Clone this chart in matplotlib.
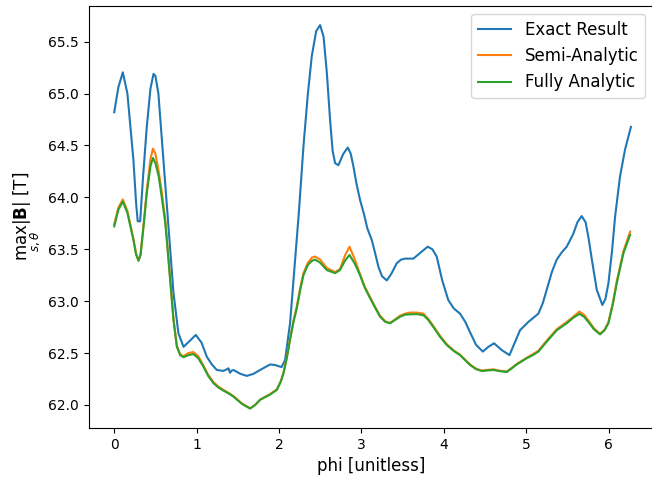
import matplotlib
matplotlib.use("Agg")
import matplotlib.pyplot as plt

# exact result
phi_exact = [0.0, 0.05, 0.104, 0.16, 0.233, 0.265, 0.285, 0.315, 0.35, 0.395, 0.44, 0.477, 0.5, 0.536,
             0.597, 0.658, 0.719, 0.779, 0.841, 0.92, 0.99, 1.06, 1.123, 1.185, 1.245, 1.325, 1.37,
             1.386, 1.405, 1.425, 1.447, 1.53, 1.609, 1.69, 1.77, 1.891, 1.95, 2.03, 2.073, 2.134,
             2.185, 2.24, 2.297, 2.35, 2.397, 2.45, 2.498, 2.54, 2.58, 2.619, 2.65, 2.68, 2.72, 2.78,
             2.834, 2.87, 2.902, 2.94, 2.983, 3.03, 3.072, 3.125, 3.17, 3.206, 3.25, 3.307, 3.36,
             3.428, 3.48, 3.529, 3.63, 3.72, 3.804, 3.86, 3.913, 3.98, 4.054, 4.12, 4.196, 4.26,
             4.318, 4.39, 4.472, 4.54, 4.609, 4.7, 4.796, 4.86, 4.924, 5.025, 5.147, 5.2, 5.248,
             5.31, 5.369, 5.43, 5.491, 5.571, 5.62, 5.672, 5.72, 5.753, 5.8, 5.855, 5.923, 5.96,
             5.996, 6.04, 6.077, 6.137, 6.198, 6.27]
b_exact = [64.82, 65.06, 65.205, 65.0, 64.36, 63.95, 63.77, 63.77, 64.2, 64.68, 65.05, 65.19, 65.17, 65.0,
           64.36, 63.72, 63.08, 62.69, 62.56, 62.62, 62.675, 62.6, 62.465, 62.39, 62.337, 62.328, 62.345,
           62.353, 62.31, 62.33, 62.337, 62.3, 62.28, 62.3, 62.337, 62.39, 62.385, 62.365, 62.43, 62.79,
           63.3, 63.85, 64.5, 65.0, 65.36, 65.6, 65.66, 65.55, 65.2, 64.75, 64.45, 64.33, 64.31, 64.42,
           64.48, 64.42, 64.3, 64.13, 63.975, 63.84, 63.7, 63.59, 63.45, 63.33, 63.24, 63.2, 63.26,
           63.365, 63.4, 63.41, 63.41, 63.47, 63.525, 63.5, 63.43, 63.2, 63.01, 62.93, 62.88, 62.8,
           62.7, 62.58, 62.514, 62.56, 62.594, 62.53, 62.48, 62.6, 62.72, 62.8, 62.88, 62.98, 63.11,
           63.28, 63.4, 63.47, 63.525, 63.65, 63.76, 63.82, 63.76, 63.62, 63.38, 63.11, 62.963, 63.02,
           63.17, 63.48, 63.81, 64.2, 64.46, 64.68]

# semi-analytic and fully analytic share the same phi grid
phi_analytic = [0.0, 0.05, 0.104, 0.16, 0.233, 0.265, 0.295, 0.32, 0.36, 0.395, 0.44, 0.47, 0.5, 0.54,
                0.577, 0.62, 0.658, 0.69, 0.719, 0.76, 0.8, 0.84, 0.9, 0.961, 1.02, 1.082, 1.14, 1.204,
                1.26, 1.325, 1.39, 1.447, 1.55, 1.649, 1.71, 1.77, 1.891, 1.973, 2.02, 2.054, 2.094,
                2.134, 2.175, 2.215, 2.26, 2.296, 2.35, 2.4, 2.437, 2.5, 2.579, 2.68, 2.74, 2.8, 2.855,
                2.92, 2.983, 3.04, 3.104, 3.17, 3.226, 3.29, 3.347, 3.41, 3.468, 3.53, 3.59, 3.67, 3.751,
                3.81, 3.873, 3.95, 4.035, 4.12, 4.196, 4.26, 4.318, 4.39, 4.459, 4.53, 4.6, 4.68, 4.763,
                4.82, 4.884, 5.006, 5.08, 5.147, 5.248, 5.37, 5.491, 5.57, 5.644, 5.7, 5.753, 5.82,
                5.895, 5.95, 5.996, 6.05, 6.097, 6.178, 6.26]
b_semi = [63.74, 63.9, 63.98, 63.87, 63.6, 63.46, 63.39, 63.45, 63.77, 64.07, 64.37, 64.47, 64.42, 64.25,
          64.05, 63.78, 63.42, 63.1, 62.83, 62.57, 62.49, 62.47, 62.5, 62.51, 62.47, 62.38, 62.29, 62.22,
          62.18, 62.145, 62.115, 62.085, 62.015, 61.968, 62.0, 62.05, 62.105, 62.15, 62.23, 62.31, 62.46,
          62.64, 62.81, 62.95, 63.14, 63.27, 63.37, 63.42, 63.43, 63.4, 63.32, 63.28, 63.31, 63.44, 63.525,
          63.4, 63.26, 63.14, 63.04, 62.94, 62.86, 62.805, 62.79, 62.825, 62.86, 62.88, 62.89, 62.89, 62.88,
          62.83, 62.76, 62.67, 62.585, 62.525, 62.485, 62.435, 62.39, 62.35, 62.332, 62.338, 62.343, 62.33,
          62.322, 62.355, 62.395, 62.455, 62.49, 62.522, 62.62, 62.73, 62.8, 62.85, 62.9, 62.87, 62.815,
          62.74, 62.685, 62.725, 62.795, 62.98, 63.19, 63.48, 63.67]
b_fully = [63.72, 63.88, 63.96, 63.85, 63.59, 63.45, 63.39, 63.45, 63.75, 64.04, 64.3, 64.38, 64.33, 64.2,
           64.0, 63.75, 63.4, 63.1, 62.82, 62.56, 62.48, 62.46, 62.48, 62.49, 62.45, 62.37, 62.28, 62.21,
           62.17, 62.138, 62.11, 62.08, 62.01, 61.965, 62.0, 62.05, 62.1, 62.145, 62.22, 62.305, 62.45,
           62.63, 62.8, 62.93, 63.12, 63.25, 63.35, 63.39, 63.4, 63.37, 63.3, 63.27, 63.3, 63.39, 63.445,
           63.36, 63.25, 63.13, 63.03, 62.93, 62.85, 62.8, 62.787, 62.82, 62.85, 62.87, 62.873, 62.875, 62.865,
           62.82, 62.75, 62.66, 62.578, 62.52, 62.48, 62.43, 62.385, 62.345, 62.327, 62.332, 62.337, 62.325,
           62.318, 62.35, 62.39, 62.45, 62.48, 62.514, 62.61, 62.72, 62.787, 62.84, 62.877, 62.85, 62.8,
           62.73, 62.68, 62.72, 62.787, 62.97, 63.17, 63.46, 63.64]

fig = plt.figure(figsize=(6.52, 4.83), dpi=100)
ax = fig.add_axes([0.136, 0.1139, 0.8666, 0.8743])

ax.plot(phi_exact, b_exact, label="Exact Result")
ax.plot(phi_analytic, b_semi, label="Semi-Analytic")
ax.plot(phi_analytic, b_fully, label="Fully Analytic")

ax.set_xlim(-0.31, 6.546)
ax.set_ylim(61.778, 65.847)
ax.set_xlabel("phi [unitless]", fontsize=12)
ax.set_ylabel(r"$\max_{s,\theta}|\mathbf{B}|$ [T]", fontsize=12)
ax.legend(loc="upper right", fontsize=12)

fig.savefig("out.png", dpi=100)
